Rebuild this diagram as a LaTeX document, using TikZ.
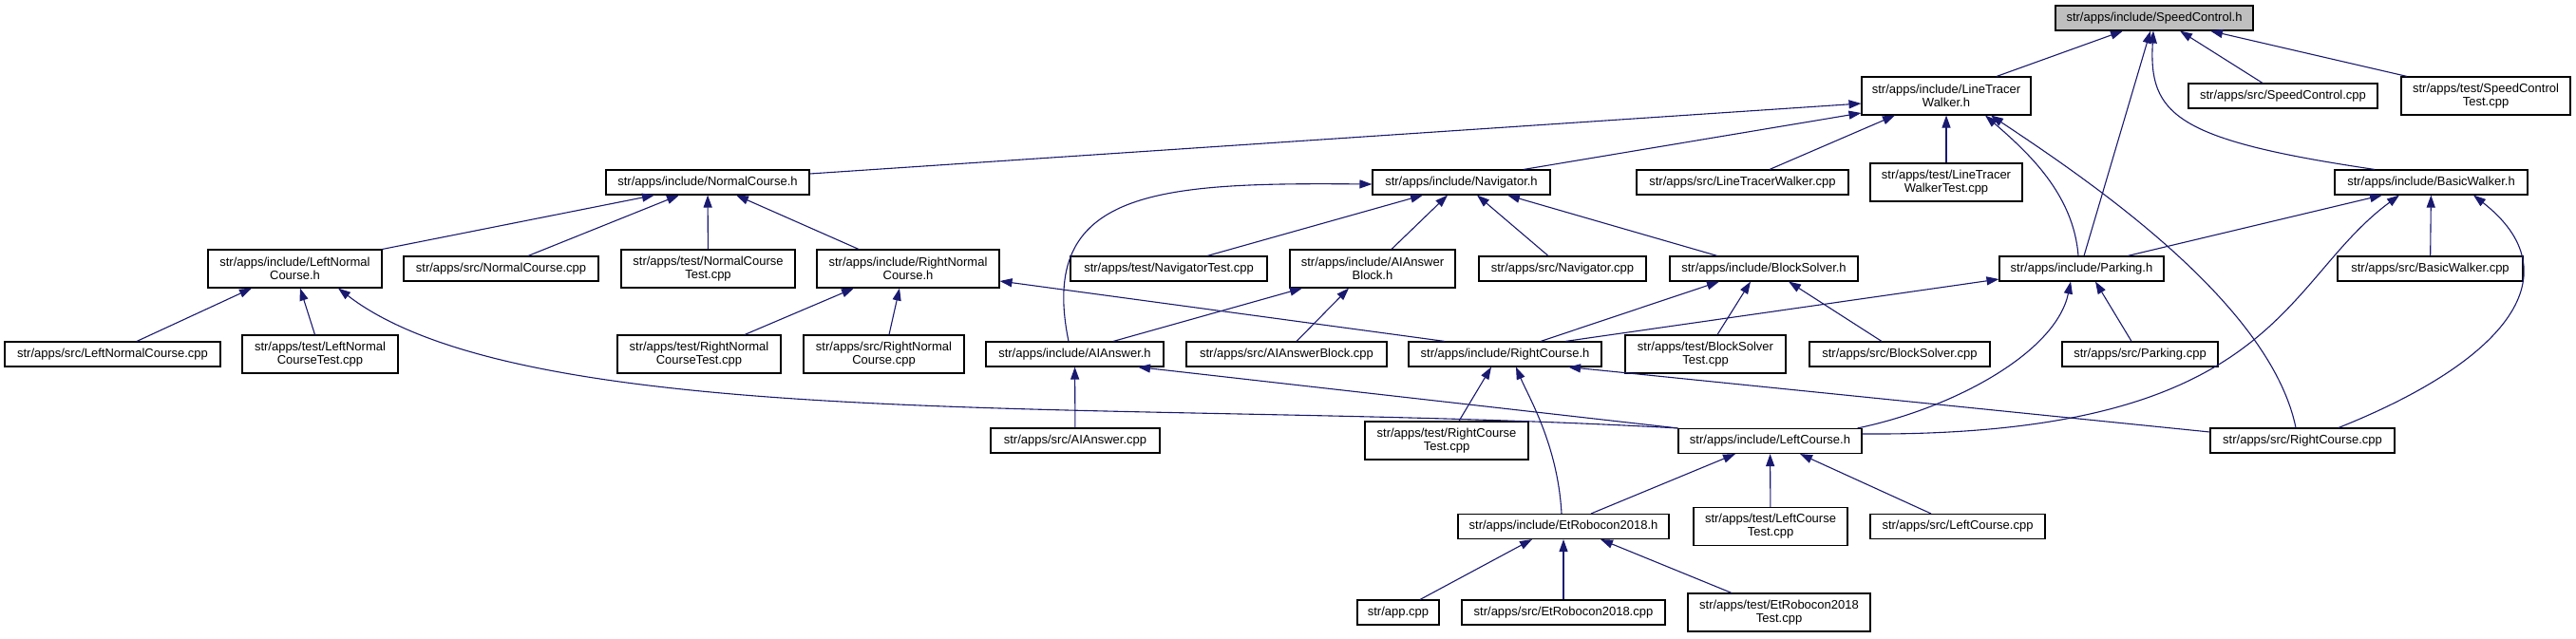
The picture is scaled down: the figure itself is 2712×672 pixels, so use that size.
\documentclass[tikz,border=0pt]{standalone}
\usepackage{fontspec}
\setmainfont{Liberation Sans}
\usepackage{tikz}
\usetikzlibrary{arrows.meta}
\definecolor{edgeblue}{HTML}{191970}
\definecolor{rootgray}{HTML}{BFBFBF}
\tikzset{
  filebox/.style={draw=black,fill=white,line width=1.1pt,inner sep=0pt,align=center,
                  minimum height=26pt,font=\fontsize{13pt}{14pt}\selectfont},
  twobox/.style={filebox,minimum height=40pt},
  rootbox/.style={filebox,fill=rootgray},
  incl/.style={-{Triangle[length=13pt,width=9pt]},draw=edgeblue,line width=1.1pt}
}

\begin{document}
\begin{tikzpicture}[x=1pt,y=-1pt]
  \useasboundingbox (0,0) rectangle (2712,672);
  % row 1
  \node[rootbox,minimum width=208pt] (sc_h) at (2268,19) {str/apps/include/SpeedControl.h};
  % row 2
  \node[twobox,minimum width=178pt] (ltw_h) at (2049,101) {str/apps/include/LineTracer\\Walker.h};
  \node[filebox,minimum width=199pt] (sc_cpp) at (2403.5,101) {str/apps/src/SpeedControl.cpp};
  \node[twobox,minimum width=178pt] (sct_cpp) at (2617,101) {str/apps/test/SpeedControl\\Test.cpp};
  % row 3
  \node[filebox,minimum width=214pt] (nc_h) at (745,192) {str/apps/include/NormalCourse.h};
  \node[filebox,minimum width=187pt] (nav_h) at (1538.5,192) {str/apps/include/Navigator.h};
  \node[filebox,minimum width=223pt] (ltw_cpp) at (1834.5,192) {str/apps/src/LineTracerWalker.cpp};
  \node[twobox,minimum width=160pt] (ltwt_cpp) at (2049,192) {str/apps/test/LineTracer\\WalkerTest.cpp};
  \node[filebox,minimum width=203pt] (bw_h) at (2559.5,192) {str/apps/include/BasicWalker.h};
  % row 4
  \node[twobox,minimum width=183pt] (lnc_h) at (310.5,283) {str/apps/include/LeftNormal\\Course.h};
  \node[filebox,minimum width=205pt] (nc_cpp) at (527.5,283) {str/apps/src/NormalCourse.cpp};
  \node[twobox,minimum width=183pt] (nct_cpp) at (745.5,283) {str/apps/test/NormalCourse\\Test.cpp};
  \node[twobox,minimum width=192pt] (rnc_h) at (956,283) {str/apps/include/RightNormal\\Course.h};
  \node[filebox,minimum width=207pt] (navt_cpp) at (1230.5,283) {str/apps/test/NavigatorTest.cpp};
  \node[twobox,minimum width=174pt] (aiab_h) at (1445,283) {str/apps/include/AIAnswer\\Block.h};
  \node[filebox,minimum width=176pt] (nav_cpp) at (1645,283) {str/apps/src/Navigator.cpp};
  \node[filebox,minimum width=198pt] (bs_h) at (1857,283) {str/apps/include/BlockSolver.h};
  \node[filebox,minimum width=173pt] (parking_h) at (2191.5,283) {str/apps/include/Parking.h};
  \node[filebox,minimum width=195pt] (bw_cpp) at (2558.5,283) {str/apps/src/BasicWalker.cpp};
  % row 5
  \node[filebox,minimum width=227pt] (lnc_cpp) at (118.5,373) {str/apps/src/LeftNormalCourse.cpp};
  \node[twobox,minimum width=164pt] (lnct_cpp) at (337,373) {str/apps/test/LeftNormal\\CourseTest.cpp};
  \node[twobox,minimum width=172pt] (rnct_cpp) at (736,373) {str/apps/test/RightNormal\\CourseTest.cpp};
  \node[twobox,minimum width=169pt] (rnc_cpp) at (930.5,373) {str/apps/src/RightNormal\\Course.cpp};
  \node[filebox,minimum width=187pt] (aia_h) at (1131.5,373) {str/apps/include/AIAnswer.h};
  \node[filebox,minimum width=211pt] (aiab_cpp) at (1354.5,373) {str/apps/src/AIAnswerBlock.cpp};
  \node[filebox,minimum width=203pt] (rc_h) at (1584.5,373) {str/apps/include/RightCourse.h};
  \node[twobox,minimum width=169pt] (bst_cpp) at (1795.5,373) {str/apps/test/BlockSolver\\Test.cpp};
  \node[filebox,minimum width=190pt] (bs_cpp) at (2000,373) {str/apps/src/BlockSolver.cpp};
  \node[filebox,minimum width=164pt] (parking_cpp) at (2253,373) {str/apps/src/Parking.cpp};
  % row 6
  \node[filebox,minimum width=178pt] (aia_cpp) at (1132,464) {str/apps/src/AIAnswer.cpp};
  \node[twobox,minimum width=172pt] (rct_cpp) at (1523,464) {str/apps/test/RightCourse\\Test.cpp};
  \node[filebox,minimum width=193pt] (lc_h) at (1863.5,464.5) {str/apps/include/LeftCourse.h};
  \node[filebox,minimum width=194pt] (rc_cpp) at (2424,464) {str/apps/src/RightCourse.cpp};
  % row 7
  \node[filebox,minimum width=222pt] (et_h) at (1646,554.5) {str/apps/include/EtRobocon2018.h};
  \node[twobox,minimum width=162pt] (lct_cpp) at (1864,554.5) {str/apps/test/LeftCourse\\Test.cpp};
  \node[filebox,minimum width=184pt] (lc_cpp) at (2061,554.5) {str/apps/src/LeftCourse.cpp};
  % row 8
  \node[filebox,minimum width=86pt] (app_cpp) at (1472,645) {str/app.cpp};
  \node[filebox,minimum width=214pt] (etc_cpp) at (1646,645) {str/apps/src/EtRobocon2018.cpp};
  \node[twobox,minimum width=192pt] (ett_cpp) at (1873,645) {str/apps/test/EtRobocon2018\\Test.cpp};

  % SpeedControl.h
  \draw[incl] ([xshift=53pt]ltw_h.north) -- ([xshift=-33pt]sc_h.south);
  \draw[incl] ([xshift=2.5pt]parking_h.north) -- ([xshift=-4pt]sc_h.south);
  \draw[incl] ([xshift=-21.5pt]sc_cpp.north) -- ([xshift=27pt]sc_h.south);
  \draw[incl] ([xshift=-83pt]sct_cpp.north) -- ([xshift=59pt]sc_h.south);
  \draw[incl] ([xshift=-59.5pt]bw_h.north) .. controls +(-210,-31) and +(-5,88) .. ([xshift=-1pt]sc_h.south);
  % LineTracerWalker.h
  \draw[incl] ([yshift=9pt]nc_h.east) -- ([yshift=-8pt]ltw_h.west);
  \draw[incl] ([xshift=65.5pt]nav_h.north) -- ([yshift=-18pt]ltw_h.west);
  \draw[incl] ([xshift=28.5pt]ltw_cpp.north) -- ([xshift=-54pt]ltw_h.south);
  \draw[incl] (ltwt_cpp) -- (ltw_h);
  \draw[incl] ([xshift=-3.5pt]parking_h.north) .. controls +(-5,-65) and +(45,39) .. ([xshift=41pt]ltw_h.south);
  \draw[incl] ([xshift=-7pt]rc_cpp.north) .. controls +(-27,-131) and +(104,69) .. ([xshift=47pt]ltw_h.south);
  % NormalCourse.h
  \draw[incl] (lnc_h.north east) -- ([xshift=-56pt]nc_h.south);
  \draw[incl] ([xshift=28.5pt]nc_cpp.north) -- ([xshift=-30pt]nc_h.south);
  \draw[incl] (nct_cpp) -- (nc_h);
  \draw[incl] ([xshift=-52pt]rnc_h.north) -- ([xshift=30pt]nc_h.south);
  % Navigator.h
  \draw[incl] ([xshift=-6.5pt]aia_h.north) .. controls +(-33,-160) and +(-226,-2) .. ([yshift=-2pt]nav_h.west);
  \draw[incl] ([xshift=40.5pt]navt_cpp.north) -- ([xshift=-40.5pt]nav_h.south);
  \draw[incl] ([xshift=20pt]aiab_h.north) -- ([xshift=-14.5pt]nav_h.south);
  \draw[incl] ([xshift=-15pt]nav_cpp.north) -- ([xshift=16.5pt]nav_h.south);
  \draw[incl] ([xshift=-49pt]bs_h.north) -- ([xshift=48.5pt]nav_h.south);
  % BasicWalker.h
  \draw[incl] ([xshift=48.5pt]parking_h.north) -- ([xshift=-51.5pt]bw_h.south);
  \draw[incl] ([yshift=7.5pt]lc_h.east) .. controls +(439,3) and +(-126,93) .. ([xshift=-33.5pt]bw_h.south);
  \draw[incl] (bw_cpp) -- (bw_h);
  \draw[incl] ([xshift=38pt]rc_cpp.north) .. controls +(178,-71) and +(106,83) .. ([xshift=44.5pt]bw_h.south);
  % LeftNormalCourse.h
  \draw[incl] ([xshift=25.5pt]lnc_cpp.north) -- ([xshift=-45.5pt]lnc_h.south);
  \draw[incl] ([xshift=-5.5pt]lnct_cpp.north) -- ([xshift=5.5pt]lnc_h.south);
  \draw[incl] (lc_h.north west) .. controls +(-567,-32) and +(204,157) .. ([xshift=45.5pt]lnc_h.south);
  % RightNormalCourse.h
  \draw[incl] ([xshift=48pt]rnct_cpp.north) -- ([xshift=-57pt]rnc_h.south);
  \draw[incl] ([xshift=5.5pt]rnc_cpp.north) -- ([xshift=-9pt]rnc_h.south);
  \draw[incl] ([xshift=-63.5pt]rc_h.north) -- ([yshift=-13pt]rnc_h.east);
  % AIAnswerBlock.h
  \draw[incl] ([xshift=40.5pt]aia_h.north) -- ([xshift=-74pt]aiab_h.south);
  \draw[incl] ([xshift=10.5pt]aiab_cpp.north) -- ([xshift=-25pt]aiab_h.south);
  % BlockSolver.h
  \draw[incl] ([xshift=37.5pt]rc_h.north) -- ([xshift=-47pt]bs_h.south);
  \draw[incl] ([xshift=12.5pt]bst_cpp.north) -- ([xshift=-14pt]bs_h.south);
  \draw[incl] ([xshift=-19pt]bs_cpp.north) -- ([xshift=26pt]bs_h.south);
  % Parking.h
  \draw[incl] ([xshift=63.5pt]rc_h.north) -- ([yshift=-11pt]parking_h.west);
  \draw[incl] ([xshift=-5pt]lc_h.north east) .. controls +(105,-22) and +(-15,73) .. ([xshift=-11.5pt]parking_h.south);
  \draw[incl] ([xshift=-9pt]parking_cpp.north) -- ([xshift=14.5pt]parking_h.south);
  % AIAnswer.h
  \draw[incl] (aia_cpp) -- (aia_h);
  \draw[incl] (lc_h.north west) -- ([xshift=66.5pt]aia_h.south);
  % RightCourse.h
  \draw[incl] ([xshift=13pt]rct_cpp.north) -- ([xshift=-14.5pt]rc_h.south);
  \draw[incl] ([xshift=-2pt]et_h.north) .. controls +(-4,-72) and +(14,33) .. ([xshift=11.5pt]rc_h.south);
  \draw[incl] ([yshift=9pt]rc_cpp.west) -- ([xshift=66.5pt]rc_h.south);
  % LeftCourse.h
  \draw[incl] ([xshift=29pt]et_h.north) -- ([xshift=-36.5pt]lc_h.south);
  \draw[incl] (lct_cpp) -- (lc_h);
  \draw[incl] ([xshift=-28pt]lc_cpp.north) -- ([xshift=31.5pt]lc_h.south);
  % EtRobocon2018.h
  \draw[incl] ([xshift=23pt]app_cpp.north) -- ([xshift=-33pt]et_h.south);
  \draw[incl] (etc_cpp) -- (et_h);
  \draw[incl] ([xshift=-50pt]ett_cpp.north) -- ([xshift=39pt]et_h.south);
\end{tikzpicture}
\end{document}
